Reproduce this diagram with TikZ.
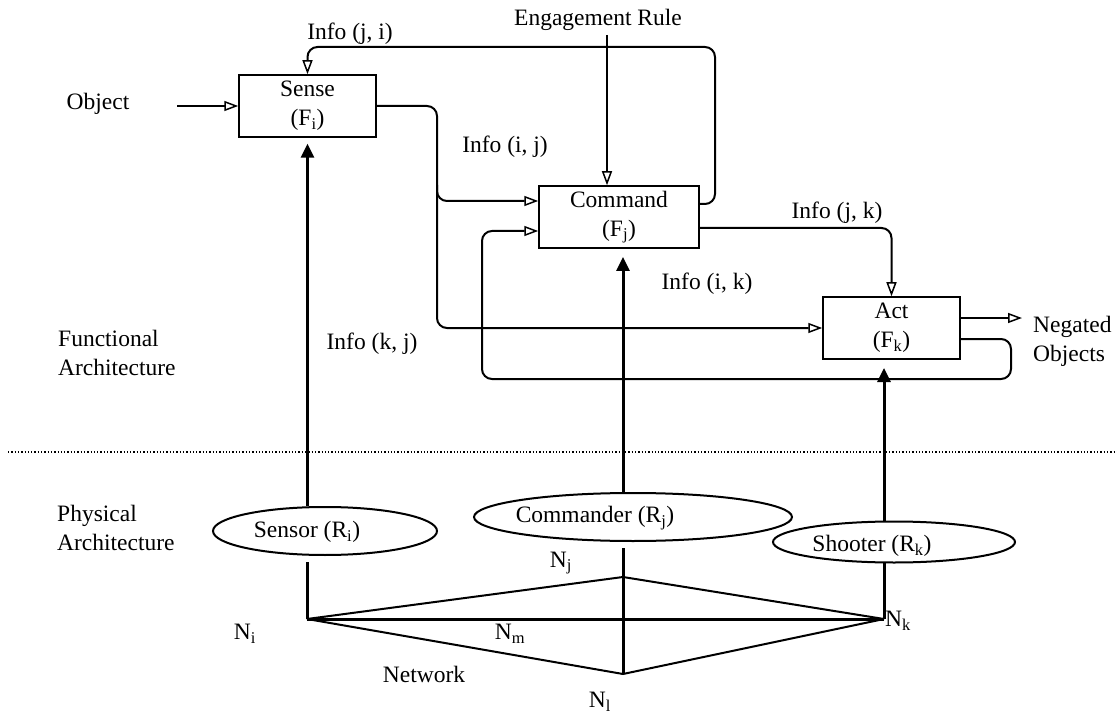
\documentclass[tikz,border=0pt]{standalone}
\usepackage{fontspec}
\setmainfont{Liberation Serif}
\usetikzlibrary{arrows.meta,shapes.geometric,calc}

\begin{document}
\begin{tikzpicture}[x=1pt,y=-1pt,
  txt/.style={font=\fontsize{23.5}{29}\selectfont, inner sep=0pt, align=center},
  fbox/.style={txt, draw, line width=1.5pt, minimum width=137pt, minimum height=62pt},
  res/.style={draw, ellipse, line width=2pt, inner sep=0pt},
  link/.style={line width=2pt},
  oarrow/.style={link, -{Triangle[open, length=14pt, width=10pt, line width=1.5pt]}},
  farrow/.style={line width=3pt, -{Triangle[length=14pt, width=13pt]}},
  net/.style={line width=2pt},
]
\fill[white] (0,0) rectangle (1117,714);
\useasboundingbox (0,0) rectangle (1117,714);

% functional blocks
\node[fbox] (sense) at (307.5,106) {Sense\\(F\textsubscript{i})};
\node[fbox, minimum width=160pt] (command) at (619,217) {Command\\(F\textsubscript{j})};
\node[fbox] (act) at (891.5,328) {Act\\(F\textsubscript{k})};

% physical resources
\node[res, minimum width=224pt, minimum height=48pt] (sensor) at (325,531) {};
\node[txt] (sensorlbl) at (307,532) {Sensor (R\textsubscript{i})};
\node[res, minimum width=318pt, minimum height=48pt] (commander) at (633,517) {};
\node[txt] (commanderlbl) at (595,518) {Commander (R\textsubscript{j})};
\node[res, minimum width=242pt, minimum height=41pt] (shooter) at (894,542) {};
\node[txt] (shooterlbl) at (872,546) {Shooter (R\textsubscript{k})};

% side and flow labels
\node[txt] (object) at (98,104) {Object};
\node[txt] (engage) at (598,20) {Engagement Rule};
\node[txt] (infoji) at (350,34) {Info (j, i)};
\node[txt] (infoij) at (505,147) {Info (i, j)};
\node[txt] (infojk) at (837,213) {Info (j, k)};
\node[txt] (infoik) at (707,284) {Info (i, k)};
\node[txt] (infokj) at (372,344) {Info (k, j)};
\node[txt, align=left, anchor=west] (negated) at (1033,341) {Negated\\Objects};
\node[txt, align=left, anchor=west] (funcarch) at (58,353) {Functional\\Architecture};
\node[txt, align=left, anchor=west] (physarch) at (57,528) {Physical\\Architecture};

% connector waypoints
\coordinate (objin) at (177,106);
\coordinate (trunk) at (437,328);
\coordinate (branch) at (437,185);
\coordinate (loopR) at (1011,379);
\coordinate (loopL) at (482,231);
\coordinate (negend) at (1022,318);
\coordinate (ruletop) at (607,35);
\coordinate (fbk) at (715,47);
\coordinate (cmdtip) at (623,257);
\coordinate (acttip) at (884,368);

% information flows
\draw[oarrow] (objin) -- (sense.west);
\draw[oarrow] (ruletop) -- (ruletop |- command.north);
\draw[oarrow, rounded corners=10pt] ([yshift=13pt]command.east) -| (fbk) -| (sense.north);
\draw[oarrow, rounded corners=10pt] (sense.east) -| (trunk) -- (act.west);
\draw[oarrow, rounded corners=10pt] (branch) |- ([yshift=16pt]command.west);
\draw[oarrow, rounded corners=10pt] ([yshift=-11pt]command.east) -| (act.north);
\draw[oarrow] ([yshift=10pt]act.east) -- (negend);
\draw[oarrow, rounded corners=10pt] ([yshift=-11pt]act.east) -| (loopR) -| (loopL) -- ([yshift=-14pt]command.west);

% resource-to-function allocation
\draw[farrow, shorten >=6pt] (sense.south |- sensor.north) -- (sense.south);
\draw[farrow] (cmdtip |- commander.north) -- (cmdtip);
\draw[farrow] (acttip |- shooter.north) -- (acttip);

% layer separator
\coordinate (sepL) at (8,452);
\coordinate (sepR) at (1117,452);
\draw[line width=1.3pt, dash pattern=on 1.3pt off 2pt] (sepL) -- (sepR);

% network
\coordinate (Ni) at (307,619);
\coordinate (Nj) at (623,577);
\coordinate (Nk) at (884,619);
\coordinate (Nl) at (623,674);
\draw[line width=3pt] (Ni) -- ++(0,-57);
\draw[line width=3pt] (Nl) -- ++(0,-126);
\draw[line width=3pt] (Nk) -- ++(0,-56);
\draw[net] (Ni) -- (Nj) -- (Nk);
\draw[net] (Ni) -- (Nl) -- (Nk);
\draw[line width=3pt] (Ni) -- (Nk);

\node[txt] (lblNi) at (245,634) {N\textsubscript{i}};
\node[txt] (lblNj) at (561,563) {N\textsubscript{j}};
\node[txt] (lblNk) at (898,621) {N\textsubscript{k}};
\node[txt] (lblNl) at (600,702) {N\textsubscript{l}};
\node[txt] (lblNm) at (510,634) {N\textsubscript{m}};
\node[txt] (network) at (424,674) {Network};
\end{tikzpicture}
\end{document}
